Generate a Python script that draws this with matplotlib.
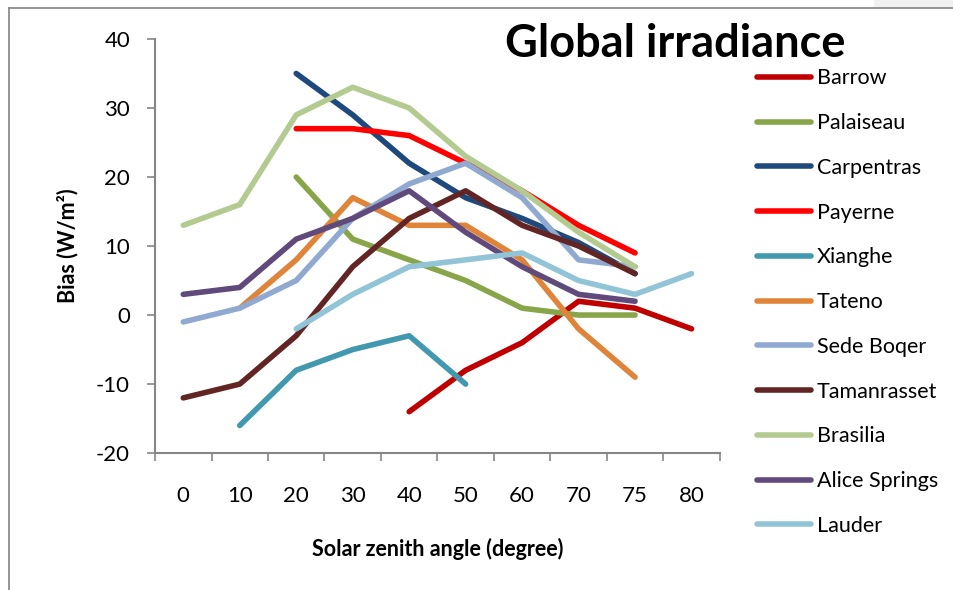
import numpy as np
import matplotlib
matplotlib.use("Agg")
import matplotlib.pyplot as plt
from matplotlib.lines import Line2D
from matplotlib.patches import Rectangle

plt.rcParams['font.family'] = ['Lato', 'DejaVu Sans']
plt.rcParams['axes.unicode_minus'] = False

nan = np.nan

# solar zenith angle categories
angles = ['0', '10', '20', '30', '40', '50', '60', '70', '75', '80']

# bias values (W/m2) per station, NaN where no data
barrow = [nan, nan, nan, nan, -14, -8, -4, 2, 1, -2]
palaiseau = [nan, nan, 20, 11, 8, 5, 1, 0, 0, nan]
carpentras = [nan, nan, 35, 29, 22, 17, 14, 10.5, 6, nan]
payerne = [nan, nan, 27, 27, 26, 22, 18, 13, 9, nan]
xianghe = [nan, -16, -8, -5, -3, -10, nan, nan, nan, nan]
tateno = [nan, 1, 8, 17, 13, 13, 8, -2, -9, nan]
sede_boqer = [-1, 1, 5, 14, 19, 22, 17, 8, 7, nan]
tamanrasset = [-12, -10, -3, 7, 14, 18, 13, 10, 6, nan]
brasilia = [13, 16, 29, 33, 30, 23, 18, 12, 7, nan]
alice_springs = [3, 4, 11, 14, 18, 12, 7, 3, 2, nan]
lauder = [nan, nan, -2, 3, 7, 8, 9, 5, 3, 6]

stations = ['Barrow', 'Palaiseau', 'Carpentras', 'Payerne', 'Xianghe', 'Tateno',
            'Sede Boqer', 'Tamanrasset', 'Brasilia', 'Alice Springs', 'Lauder']
series = [barrow, palaiseau, carpentras, payerne, xianghe, tateno,
          sede_boqer, tamanrasset, brasilia, alice_springs, lauder]
colors = ['#C00000', '#88A54A', '#1F497D', '#FF0000', '#4198AF', '#DF8438',
          '#8FA9D1', '#632523', '#B3CB90', '#604A7B', '#92C4D8']

fig = plt.figure(figsize=(9.54, 5.90), dpi=100)
ax = fig.add_axes([0.1625, 0.232, 0.592, 0.702])

x = np.arange(len(angles))
for name, vals, c in zip(stations, series, colors):
    ax.plot(x, vals, color=c, lw=4, solid_capstyle='round',
            solid_joinstyle='round', label=name)

gray = '#868686'
ax.set_xlim(-0.5, len(angles) - 0.5)
ax.set_ylim(-20, 40)
ax.set_yticks(np.arange(-20, 41, 10))
ax.set_xticks(np.arange(-0.5, len(angles), 1.0))
ax.set_xticklabels([])
ax.set_xticks(x, minor=True)
ax.set_xticklabels(angles, minor=True)
ax.tick_params(axis='x', which='major', length=6, color=gray, width=1.2)
ax.tick_params(axis='x', which='minor', length=0, pad=24, labelsize=16)
ax.tick_params(axis='y', length=6, color=gray, width=1.2, labelsize=16, pad=12)
for s in ['top', 'right']:
    ax.spines[s].set_visible(False)
for s in ['left', 'bottom']:
    ax.spines[s].set_color(gray)
    ax.spines[s].set_linewidth(1.5)

ax.set_xlabel('Solar zenith angle (degree)', fontsize=15.5, fontweight='bold', labelpad=23)
ax.set_ylabel('Bias (W/m²)', fontsize=15.5, fontweight='bold', labelpad=13)

fig.text(0.7075, 0.925, 'Global irradiance', fontsize=32.5, fontweight='bold',
         ha='center', va='center')

handles = [Line2D([0], [0], color=c, lw=4, solid_capstyle='round') for c in colors]
fig.legend(handles, stations, loc='upper left', bbox_to_anchor=(0.793, 0.884),
           frameon=False, fontsize=15.5, handlelength=2.55, handletextpad=0.25,
           labelspacing=1.15, borderaxespad=0, borderpad=0)

# frame of the screenshot
fig.add_artist(Rectangle((874 / 954, 1 - 8 / 590), 80 / 954, 8 / 590,
                         transform=fig.transFigure, color='#EFF0EF', lw=0))
fig.add_artist(Line2D([9 / 954, 1], [1 - 8 / 590, 1 - 8 / 590],
                      transform=fig.transFigure, color='#8C8C8C', lw=1.3))
fig.add_artist(Line2D([9 / 954, 9 / 954], [0, 1 - 8 / 590],
                      transform=fig.transFigure, color='#8C8C8C', lw=1.3))

fig.savefig('out.png', dpi=100)
